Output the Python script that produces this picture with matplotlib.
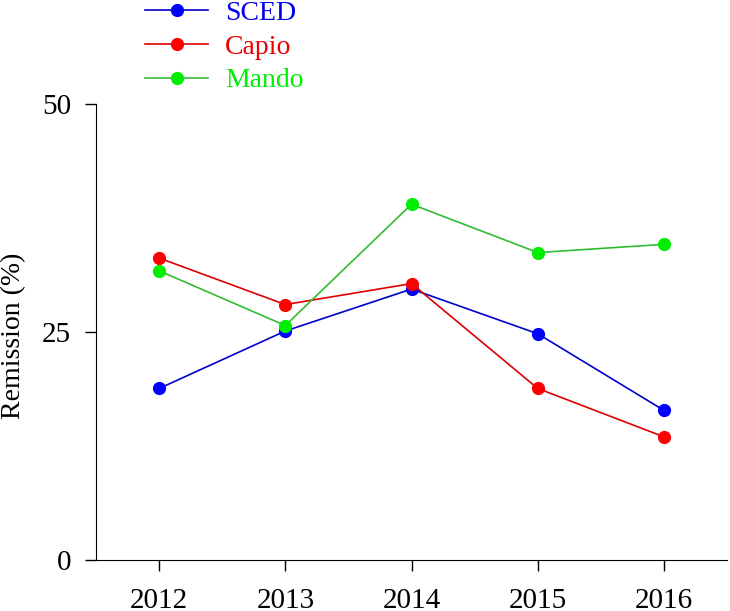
import matplotlib
matplotlib.use("Agg")
import matplotlib.pyplot as plt

years = [2012, 2013, 2014, 2015, 2016]
sced = [18.8, 25.1, 29.7, 24.8, 16.4]
capio = [33.1, 28.0, 30.3, 18.8, 13.5]
mando = [31.7, 25.7, 39.0, 33.7, 34.6]

plt.rcParams['font.family'] = ['Liberation Serif', 'DejaVu Serif']

fig = plt.figure(figsize=(7.3, 6.11), dpi=100)
ax = fig.add_axes([0.1315, 0.0835, 0.8645, 0.7465])

ax.plot(years, sced, color='#0000cc', lw=1.2, marker='o', ms=8.5,
        mfc='#0000ff', mec='#0000ff', label='SCED', clip_on=False)
ax.plot(years, capio, color='#dd0000', lw=1.2, marker='o', ms=8.5,
        mfc='#ff0000', mec='#ff0000', label='Capio', clip_on=False)
ax.plot(years, mando, color='#33bb33', lw=1.2, marker='o', ms=8.5,
        mfc='#00ee00', mec='#00ee00', label='Mando', clip_on=False)

ax.set_xlim(2011.5, 2016.5)
ax.set_ylim(0, 50)
ax.set_xticks(years)
ax.set_yticks([0, 25, 50])
ax.spines['top'].set_visible(False)
ax.spines['right'].set_visible(False)
ax.tick_params(direction='out', length=8, width=1, labelsize=21)
ax.tick_params(axis='x', pad=12)
ax.tick_params(axis='y', pad=10)
fig.text(0.018, 0.45, 'Remission (%)', rotation=90, fontsize=20,
         ha='center', va='center')

leg = ax.legend(loc='upper left', bbox_to_anchor=(0.179, 1.022),
                bbox_transform=fig.transFigure, frameon=False, fontsize=20,
                handlelength=2.3, handletextpad=0.6, labelspacing=0.3,
                borderpad=0, labelcolor=['#0000ee', '#ee0000', '#00ee00'])

fig.savefig('out.png', dpi=100)
